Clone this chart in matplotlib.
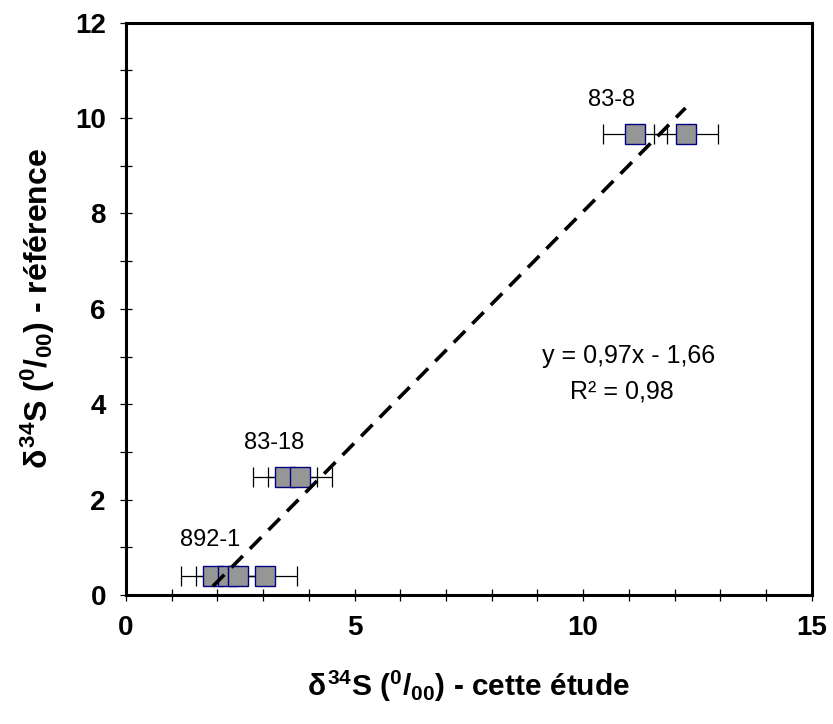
import numpy as np
import matplotlib
matplotlib.use('Agg')
import matplotlib.pyplot as plt
from matplotlib.ticker import MultipleLocator

plt.rcParams['font.family'] = ['Liberation Sans', 'DejaVu Sans']
plt.rcParams['mathtext.fontset'] = 'custom'
plt.rcParams['mathtext.rm'] = 'Liberation Sans:bold'
plt.rcParams['mathtext.it'] = 'Liberation Sans:bold'
plt.rcParams['mathtext.bf'] = 'Liberation Sans:bold'

# data
x_etude = [1.90, 2.23, 2.45, 3.05, 3.48, 3.81, 11.13, 12.24]
y_ref = [0.40, 0.40, 0.40, 0.40, 2.48, 2.48, 9.66, 9.66]
x_err = [0.7, 0.7, 0.7, 0.7, 0.7, 0.7, 0.7, 0.7]
sample_names = ['892-1', '83-18', '83-8']
sample_pos = [(1.84, 1.15), (3.24, 3.19), (10.63, 10.38)]

slope, intercept = 0.97, -1.66
eq_text = 'y = 0,97x - 1,66'
r2_text = 'R² = 0,98'

fig = plt.figure(figsize=(8.33, 7.24), dpi=100)
ax = fig.add_axes([0.1513, 0.1782, 0.8231, 0.7904])

ax.errorbar(x_etude, y_ref, xerr=x_err, fmt='none', ecolor='black',
            elinewidth=0.9, capsize=7, capthick=0.9, zorder=2)
ax.plot(x_etude, y_ref, 's', markersize=15, markerfacecolor='#969696',
        markeredgecolor='#000080', markeredgewidth=1.0, zorder=3)

# trend line over the data range
xl = np.array([min(x_etude), max(x_etude)])
ax.plot(xl, slope * xl + intercept, color='black', lw=2.6,
        linestyle=(0, (4.5, 2.8)), zorder=4)

for name, (tx, ty) in zip(sample_names, sample_pos):
    ax.text(tx, ty, name, fontsize=17, ha='center', va='center')

ax.text(11.0, 5.01, eq_text, fontsize=18, ha='center', va='center')
ax.text(10.85, 4.26, r2_text, fontsize=18, ha='center', va='center')

ax.set_xlim(0, 15)
ax.set_ylim(0, 12)
ax.xaxis.set_major_locator(MultipleLocator(5))
ax.xaxis.set_minor_locator(MultipleLocator(1))
ax.yaxis.set_major_locator(MultipleLocator(2))
ax.yaxis.set_minor_locator(MultipleLocator(1))
ax.tick_params(which='both', direction='inout', length=9, width=0.9,
               top=False, right=False)
ax.tick_params(which='major', labelsize=20, pad=10)
for lab in ax.get_xticklabels() + ax.get_yticklabels():
    lab.set_fontweight('bold')
for sp in ax.spines.values():
    sp.set_linewidth(2.2)

ax.set_xlabel(r'$\delta^{34}$S ($^{0}$/$_{00}$) - cette étude',
              fontsize=21.5, fontweight='bold', labelpad=20)
ax.set_ylabel(r'$\delta^{34}$S ($^{0}$/$_{00}$) - référence',
              fontsize=23, fontweight='bold', labelpad=13)

fig.savefig('out.png', dpi=100)
